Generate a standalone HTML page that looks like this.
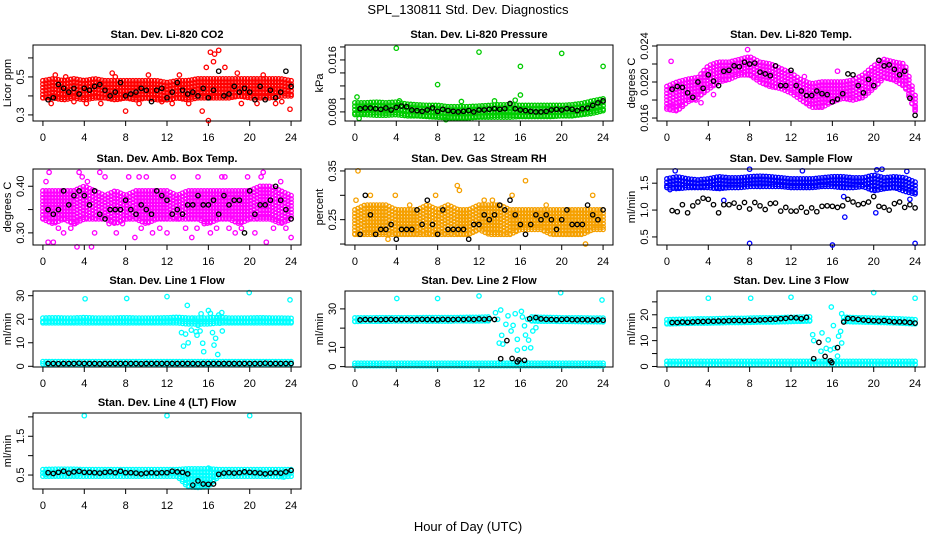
<!DOCTYPE html>
<html><head><meta charset="utf-8"><style>
html,body{margin:0;padding:0;background:#fff;}
svg{display:block;font-family:"Liberation Sans",sans-serif;}
</style></head><body>
<svg id="fig" width="936" height="540" viewBox="0 0 936 540" xmlns="http://www.w3.org/2000/svg">
<rect width="936" height="540" fill="#fff"/>
<text x="468" y="14" text-anchor="middle" font-size="13">SPL_130811  Std. Dev. Diagnostics</text>
<text x="468" y="531" text-anchor="middle" font-size="13">Hour of Day (UTC)</text>
</svg>
<script>
const co2Lo=[0.39,0.39,0.38,0.39,0.38,0.39,0.39,0.38,0.39,0.38,0.39,0.38,0.38,0.39,0.38,0.39,0.39,0.39,0.39,0.40,0.39,0.39,0.39,0.40,0.40];
const co2Hi=[0.48,0.49,0.48,0.49,0.48,0.49,0.48,0.48,0.48,0.48,0.48,0.48,0.47,0.48,0.48,0.49,0.49,0.49,0.49,0.49,0.49,0.49,0.49,0.49,0.48];
const co2SX=[1.2,10.2,16.2,16.6,17.0,16.5,17.6,15.4,16.0,8.0,23.9,0.8,3.0,4.2,5.6,6.7,9.3,12.5,13.2,14.1,18.8,19.2,21.3,22.5,23.1,2.2,7.0,11.5,20.7,15.8];
const co2SY=[0.51,0.51,0.63,0.62,0.64,0.58,0.55,0.32,0.27,0.32,0.33,0.36,0.37,0.36,0.36,0.52,0.36,0.36,0.51,0.36,0.52,0.36,0.51,0.36,0.37,0.50,0.50,0.37,0.36,0.55];
const co2Blk=[0.38,0.39,0.46,0.44,0.42,0.44,0.41,0.44,0.43,0.45,0.46,0.43,0.40,0.42,0.47,0.40,0.41,0.42,0.44,0.43,0.37,0.43,0.44,0.39,0.42,0.47,0.43,0.41,0.42,0.40,0.44,0.39,0.43,0.53,0.40,0.41,0.45,0.42,0.44,0.42,0.38,0.45,0.38,0.43,0.39,0.42,0.53,0.45];

const prLo=[0.0076,0.0076,0.0075,0.0075,0.0076,0.0074,0.0074,0.0073,0.0072,0.0071,0.0071,0.0071,0.0072,0.0072,0.0072,0.0072,0.0073,0.0073,0.0073,0.0073,0.0074,0.0074,0.0076,0.0078,0.0082];
const prHi=[0.0094,0.0094,0.0095,0.0094,0.0095,0.0092,0.0091,0.0090,0.0090,0.0088,0.0088,0.0088,0.0089,0.0090,0.0091,0.0091,0.0090,0.0090,0.0090,0.0090,0.0090,0.0091,0.0093,0.0097,0.0100];
const prSX=[4.0,12.0,20.0,16.0,24.0,8.0,16.0,0.2,0.4,4.3,10.3,13.5,8.8,15.5];
const prSY=[0.0178,0.0172,0.0170,0.0150,0.0150,0.0122,0.0106,0.0103,0.0070,0.0097,0.0096,0.0097,0.0068,0.0098];
const prBlk=[0.0085,0.0086,0.0086,0.0085,0.0084,0.0086,0.0083,0.0087,0.0089,0.0088,0.0083,0.0082,0.0081,0.0083,0.0086,0.0081,0.0084,0.0082,0.0081,0.0080,0.0081,0.0082,0.0080,0.0083,0.0083,0.0084,0.0085,0.0084,0.0085,0.0093,0.0085,0.0083,0.0082,0.0081,0.0080,0.0080,0.0081,0.0083,0.0084,0.0083,0.0085,0.0084,0.0082,0.0085,0.0086,0.0090,0.0094,0.0097];

const tmpLo=[0.0170,0.0168,0.0178,0.0183,0.0192,0.0200,0.0203,0.0208,0.0208,0.0200,0.0195,0.0193,0.0188,0.0180,0.0172,0.0172,0.0178,0.0182,0.0180,0.0183,0.0193,0.0205,0.0202,0.0195,0.0168];
const tmpHi=[0.0195,0.0200,0.0203,0.0205,0.0218,0.0222,0.0222,0.0225,0.0228,0.0222,0.0220,0.0215,0.0210,0.0202,0.0198,0.0200,0.0200,0.0200,0.0202,0.0208,0.0218,0.0225,0.0222,0.0220,0.0185];
const tmpSX=[0.4,0.5,1.0,1.5,3.3,4.5,7.8,16.5,13.3,24.0,2.8];
const tmpSY=[0.0223,0.0173,0.0173,0.0173,0.0177,0.0186,0.0236,0.0212,0.0206,0.0172,0.0180];
const tmpBlk=[0.0192,0.0195,0.0194,0.0188,0.0183,0.0200,0.0193,0.0208,0.0201,0.0196,0.0212,0.0213,0.0218,0.0217,0.0222,0.0220,0.0221,0.0211,0.0209,0.0207,0.0218,0.0196,0.0196,0.0213,0.0196,0.0190,0.0185,0.0185,0.0190,0.0187,0.0186,0.0178,0.0181,0.0187,0.0209,0.0208,0.0196,0.0188,0.0203,0.0196,0.0224,0.0218,0.0219,0.0214,0.0208,0.0212,0.0182,0.0163];

const ambLo=[0.33,0.32,0.33,0.32,0.33,0.33,0.33,0.32,0.33,0.33,0.32,0.33,0.33,0.33,0.33,0.33,0.32,0.33,0.33,0.32,0.33,0.33,0.33,0.32,0.33];
const ambHi=[0.39,0.39,0.39,0.39,0.40,0.39,0.38,0.39,0.38,0.39,0.39,0.39,0.39,0.38,0.39,0.39,0.39,0.39,0.39,0.39,0.39,0.40,0.40,0.39,0.38];
const ambSX=[0.3,0.6,1,1.5,2,2.7,3.1,3.5,3.8,4.7,5,5.5,6.4,7.1,7.7,8.3,8.9,9.5,10,10.6,11.3,12,12.6,13.1,13.8,14.4,15,15.6,16.2,16.8,17.3,18,18.6,19.2,19.8,20.5,21.1,21.6,22.3,23,23.5,24,0.5,3.3,4.3,6,9.3,14.9,17.6,21.3];
const ambSY=[0.41,0.43,0.28,0.31,0.30,0.31,0.32,0.43,0.42,0.27,0.30,0.43,0.32,0.30,0.32,0.42,0.29,0.31,0.42,0.30,0.31,0.30,0.42,0.33,0.31,0.29,0.42,0.32,0.30,0.31,0.42,0.31,0.30,0.31,0.42,0.30,0.42,0.28,0.31,0.41,0.31,0.29,0.28,0.27,0.41,0.42,0.42,0.31,0.42,0.43];
const ambBlk=[0.35,0.34,0.35,0.39,0.36,0.38,0.39,0.38,0.36,0.39,0.34,0.33,0.35,0.35,0.35,0.37,0.35,0.34,0.36,0.35,0.34,0.39,0.38,0.37,0.34,0.35,0.34,0.36,0.36,0.38,0.36,0.36,0.37,0.34,0.38,0.36,0.37,0.37,0.30,0.39,0.34,0.36,0.36,0.37,0.40,0.37,0.35,0.33];

const rhLo=[0.22,0.22,0.22,0.22,0.22,0.22,0.22,0.22,0.22,0.22,0.22,0.22,0.23,0.22,0.22,0.22,0.23,0.23,0.23,0.22,0.22,0.22,0.22,0.23,0.23];
const rhHi=[0.27,0.28,0.28,0.28,0.27,0.27,0.27,0.28,0.27,0.28,0.27,0.27,0.28,0.28,0.28,0.27,0.27,0.27,0.27,0.27,0.27,0.27,0.27,0.27,0.27];
const rhSX=[0.3,10.1,16.5,15.2,9.9,1.5,3.9,7.8,12.5,13.3,23.0,22.3,3.2,0.1,18.5,5.3];
const rhSY=[0.35,0.31,0.33,0.30,0.32,0.30,0.30,0.30,0.29,0.29,0.30,0.20,0.21,0.29,0.28,0.28];
const rhBlk=[0.22,0.30,0.26,0.22,0.23,0.23,0.24,0.21,0.23,0.23,0.23,0.27,0.24,0.29,0.24,0.22,0.27,0.23,0.23,0.23,0.23,0.21,0.24,0.24,0.26,0.25,0.26,0.28,0.27,0.29,0.26,0.24,0.22,0.24,0.26,0.25,0.26,0.25,0.23,0.25,0.27,0.24,0.24,0.24,0.28,0.26,0.25,0.27];

const sfLo=[1.42,1.40,1.42,1.42,1.42,1.40,1.42,1.42,1.44,1.44,1.44,1.44,1.42,1.42,1.42,1.44,1.44,1.42,1.42,1.44,1.36,1.40,1.42,1.35,1.30];
const sfHi=[1.58,1.62,1.58,1.56,1.58,1.62,1.60,1.60,1.62,1.63,1.62,1.60,1.58,1.58,1.58,1.60,1.62,1.62,1.60,1.60,1.65,1.60,1.62,1.60,1.52];
const sfSX=[8,16,24,17.2,20.2,8,5.5,0.8,13.1,20.3,20.8,17.1,23.2,0.3,23.5];
const sfSY=[0.38,0.35,0.38,0.87,0.95,1.76,1.18,1.73,1.73,1.75,1.76,1.25,1.72,1.38,1.20];
const sfBlk=[0.99,0.97,1.10,0.95,1.08,1.15,1.22,1.20,1.10,0.95,1.10,1.10,1.13,1.05,1.14,1.02,1.14,1.08,1.01,1.12,1.13,0.98,1.05,0.98,0.98,1.05,0.96,1.04,0.97,1.07,1.08,1.07,1.05,1.08,1.20,1.15,1.10,1.12,1.15,1.25,1.07,1.05,1.00,1.12,1.15,1.05,1.10,1.04];

const l1Lo=[18.5,18.5,18.5,18.5,18.5,18.5,18.5,18.5,18.5,18.5,18.5,18.5,18.5,18.5,18,18,18,18.5,18.5,18.5,18.5,18.5,18.5,18.5,18.5];
const l1Hi=[20.5,20.6,20.5,20.5,20.7,20.5,20.5,20.5,20.6,20.5,20.5,20.5,20.6,20.8,20.5,20.5,20.5,20.8,20.5,20.5,20.5,20.6,20.5,20.5,20.4];
const l1BLo=[1.0,1.0,1.0,1.0,1.0,1.0,1.0,1.0,1.0,1.0,1.0,1.0,1.0,1.0,1.0,1.0,1.0,1.0,1.0,1.0,1.0,1.0,1.0,1.0,1.0];
const l1BHi=[2.0,2.0,2.0,2.0,2.0,2.0,2.0,2.0,2.0,2.0,2.0,2.0,2.0,2.0,2.0,2.0,2.0,2.0,2.0,2.0,2.0,2.0,2.0,2.0,2.0];
const l1SX=[4.08,8.1,12.0,19.95,23.9,13.96,13.4,13.8,13.6,14.05,14.35,14.8,14.9,15.2,15.3,15.45,15.55,16.0,16.2,16.4,16.55,16.7,16.9,17.0,17.3,17.35,17.1,14.45,15.0];
const l1SY=[28.7,28.8,29.6,31.3,28.2,25.9,14.3,13.7,8.6,10.0,15.4,14.7,13.2,15.0,22.3,9.8,6.2,23.7,22.5,14.3,9.0,11.9,5.0,21.8,22.8,15.0,18.3,20.5,17.4];
const l1Blk=[1.2,1.2,1.1,1.2,1.2,1.2,1.3,1.2,1.2,1.2,1.1,1.2,1.2,1.2,1.2,1.2,1.2,1.2,1.1,1.2,1.2,1.2,1.2,1.2,1.2,1.2,1.2,1.2,1.2,1.1,1.2,1.2,1.2,1.2,1.2,1.2,1.2,1.2,1.2,1.2,1.2,1.2,1.3,1.2,1.2,1.2,1.2,1.2];

const l2Lo=[23.5,23.6,23.6,23.6,23.7,23.7,23.7,23.7,23.7,23.7,23.8,23.8,23.8,23.8,null,null,null,23.8,23.6,23.6,23.5,23.5,23.4,23.4,23.3];
const l2Hi=[25.3,25.3,25.4,25.4,25.4,25.4,25.4,25.5,25.5,25.5,25.5,25.6,25.6,25.8,null,null,null,25.8,25.6,25.5,25.4,25.3,25.3,25.2,25.2];
const l2BLo=[0.5,0.5,0.5,0.5,0.5,0.5,0.5,0.5,0.5,0.5,0.5,0.5,0.5,0.5,0.5,0.5,0.5,0.5,0.5,0.5,0.5,0.5,0.5,0.5,0.5];
const l2BHi=[1.8,1.8,1.8,1.8,1.8,1.8,1.8,1.8,1.8,1.8,1.8,1.8,1.8,1.8,1.8,1.8,1.8,1.8,1.8,1.8,1.8,1.8,1.8,1.8,1.8];
const l2SX=[4.05,8.0,12.0,19.9,23.9,13.6,14.1,13.8,14.2,13.95,14.3,14.6,15.1,15.3,15.7,15.5,16.1,16.2,16.4,16.5,16.8,17.0,16.4,15.7,17.5,17.2,16.7,14.8];
const l2SY=[35.4,35.4,36.7,38.4,34.6,28.0,29.4,24.6,16.3,12.2,11.7,22.0,18.5,21.4,14.2,27.5,28.7,25.8,21.2,16.4,13.8,9.8,9.5,8.6,20.2,18.5,24.6,26.4];
const l2Blk=[24.3,24.5,24.4,24.5,24.4,24.5,24.6,24.4,24.5,24.5,24.4,24.5,24.6,24.5,24.5,24.4,24.6,24.5,24.5,24.6,24.5,24.7,24.5,24.8,24.6,24.9,24.5,null,null,null,null,null,null,null,25.5,24.8,24.6,24.5,24.4,24.5,24.6,24.4,24.3,24.4,24.3,24.2,24.3,24.1];
const l2BSX=[14.1,14.7,15.2,15.85,15.7,16.4,16.9];
const l2BSY=[4.1,13.5,4.2,3.5,2.5,3.3,24.9];

const l3Lo=[16.5,16.6,16.7,16.8,16.8,16.9,17.0,17.0,17.1,17.2,17.2,17.3,17.4,17.5,17.6,null,null,17.5,17.3,17.2,17.1,17.0,16.9,16.7,16.5];
const l3Hi=[18.1,18.2,18.3,18.4,18.4,18.5,18.6,18.6,18.7,18.8,18.8,18.9,19.0,19.1,19.2,null,null,19.1,18.9,18.8,18.7,18.6,18.5,18.3,18.1];
const l3BLo=[0.8,0.8,0.8,0.8,0.8,0.8,0.8,0.8,0.8,0.8,0.8,0.8,0.8,0.8,0.8,0.8,0.8,0.8,0.8,0.8,0.8,0.8,0.8,0.8,0.8];
const l3BHi=[2.0,2.0,2.0,2.0,2.0,2.0,2.0,2.0,2.0,2.0,2.0,2.0,2.0,2.0,2.0,2.0,2.0,2.0,2.0,2.0,2.0,2.0,2.0,2.0,2.0];
const l3SX=[4.0,8.1,12.0,20.0,24.0,14.1,14.2,15.0,15.6,15.9,16.1,16.8,16.6,16.9,16.9,14.9,15.4,15.8,16.2,16.5];
const l3SY=[26.4,26.4,26.8,28.6,26.4,12.3,10.0,13.0,10.3,23.0,15.8,13.6,11.7,9.1,20.4,5.9,7.0,6.4,7.0,4.0];
const l3Blk=[17.0,17.0,17.2,17.1,17.3,17.4,17.4,17.5,17.5,17.6,17.6,17.7,17.8,17.8,17.7,17.9,17.9,18.0,18.1,18.2,18.3,18.5,18.6,18.9,18.8,18.5,19.0,null,null,null,null,null,null,null,18.6,18.5,18.2,18.0,17.8,17.7,17.6,17.8,17.5,17.3,17.3,17.2,17.0,16.8];
const l3BSX=[14.2,14.7,15.3,15.8,15.95,16.5,17.1];
const l3BSY=[3.0,9.3,3.9,2.2,1.5,7.3,17.2];

const l4Lo=[0.47,0.47,0.47,0.47,0.47,0.47,0.47,0.47,0.47,0.47,0.47,0.47,0.47,0.47,0.20,0.18,0.20,0.47,0.47,0.47,0.47,0.47,0.47,0.46,0.47];
const l4Hi=[0.64,0.65,0.65,0.65,0.64,0.64,0.64,0.64,0.64,0.64,0.64,0.64,0.64,0.64,0.66,0.66,0.66,0.64,0.64,0.64,0.64,0.64,0.64,0.64,0.64];
const l4SX=[4.0,12.0,20.0,16.0,0.2,23.3];
const l4SY=[2.03,2.03,2.03,0.68,0.52,0.45];
const l4Blk=[0.56,0.54,0.57,0.60,0.55,0.58,0.60,0.57,0.57,0.56,0.55,0.57,0.58,0.56,0.60,0.56,0.56,0.55,0.53,0.55,0.56,0.55,0.56,0.56,0.60,0.58,0.57,0.53,0.24,0.35,0.27,0.26,0.27,0.52,0.55,0.56,0.55,0.56,0.58,0.57,0.56,0.55,0.53,0.55,0.56,0.55,0.58,0.62];

const NS="http://www.w3.org/2000/svg";
const svg=document.getElementById('fig');
function mk(tag,attrs,parent){const e=document.createElementNS(NS,tag);for(const k in attrs)e.setAttribute(k,attrs[k]);(parent||svg).appendChild(e);return e;}

const W=268,H=76,PAD=0.96;
function makePanel(col,row,title,ylab,ymin,ymax,ticks,labels,slug){
  const L=33+312*col, T=[45,169,291,413][row], B=T+H;
  const g=mk('g',{});
  
  
  const xs=h=>L+(h+PAD)/(24+2*PAD)*W;
  const ys=v=>B-(v-ymin)/(ymax-ymin)*H;
  const t=mk('text',{x:L+W/2,y:T-7,'text-anchor':'middle','font-size':11,'font-weight':'bold'},g);
  t.textContent=title;
  
  
  const yl=mk('text',{x:0,y:0,transform:`translate(${L-22},${T+H/2}) rotate(-90)`,'text-anchor':'middle','font-size':11},g);
  yl.textContent=ylab;
  
  
  const xt=[0,4,8,12,16,20,24];
  xt.forEach(h=>{
    mk('line',{x1:xs(h),x2:xs(h),y1:B,y2:B+5,stroke:'#000','stroke-width':1},g);
    const tx=mk('text',{x:xs(h),y:B+20,'text-anchor':'middle','font-size':11},g);
    tx.textContent=h;
    
    
  });
  ticks.forEach((v,i)=>{
    mk('line',{x1:L-5,x2:L,y1:ys(v),y2:ys(v),stroke:'#000','stroke-width':1},g);
    if(labels[i]){
      const ty=mk('text',{x:0,y:0,transform:`translate(${L-9},${ys(v)}) rotate(-90)`,'text-anchor':'middle','font-size':11},g);
      ty.textContent=labels[i];
      
      
    }
  });
  const pts=mk('g',{},g);
  
  
  const box=mk('rect',{x:L,y:T,width:W,height:H,fill:'none',stroke:'#000','stroke-width':1},g);
  
  
  return {xs,ys,pts};
}
function dot(p,x,y,c){mk('circle',{cx:x.toFixed(1),cy:y.toFixed(1),r:2.2,fill:'none',stroke:c,'stroke-width':1.3},p.pts);}
function band(p,lo,hi,c){
  for(let h=0;h<=24.001;h+=0.3){
    const i=Math.min(23,Math.floor(h)),f=h-i;
    if(lo[i]==null||lo[i+1]==null) continue;
    const a=lo[i]+(lo[i+1]-lo[i])*f,b=hi[i]+(hi[i+1]-hi[i])*f;
    const y1=p.ys(b),y2=p.ys(a),x=p.xs(h);
    for(let y=y1;y<=y2+0.01;y+=3.4) dot(p,x,y,c);
    dot(p,x,y2,c);
  }
}
function scatter(p,X,Y,c){X.forEach((x,i)=>{if(Y[i]!=null)dot(p,p.xs(x),p.ys(Y[i]),c);});}
function blacks(p,Y){Y.forEach((v,i)=>{if(v!=null)dot(p,p.xs(0.5*(i+1)),p.ys(v),'#000');});}

let p;
p=makePanel(0,0,'Stan. Dev. Li-820 CO2','Licor ppm',0.268,0.668,[0.3,0.4,0.5,0.6],['0.3','','0.5',''],'co2');
band(p,co2Lo,co2Hi,'#ff0000');scatter(p,co2SX,co2SY,'#ff0000');blacks(p,co2Blk);

p=makePanel(1,0,'Stan. Dev. Li-820 Pressure','kPa',0.0066,0.0183,[0.008,0.010,0.012,0.014,0.016,0.018],['0.008','','','','0.016',''],'pressure');
band(p,prLo,prHi,'#00cc00');scatter(p,prSX,prSY,'#00cc00');blacks(p,prBlk);

p=makePanel(2,0,'Stan. Dev. Li-820 Temp.','degrees C',0.01567,0.02411,[0.016,0.018,0.020,0.022,0.024],['0.016','','0.020','','0.024'],'li820-temp');
band(p,tmpLo,tmpHi,'#ff00ff');scatter(p,tmpSX,tmpSY,'#ff00ff');blacks(p,tmpBlk);

p=makePanel(0,1,'Stan. Dev. Amb. Box Temp.','degrees C',0.274,0.437,[0.30,0.35,0.40],['0.30','','0.40'],'amb-box-temp');
band(p,ambLo,ambHi,'#ff00ff');scatter(p,ambSX,ambSY,'#ff00ff');blacks(p,ambBlk);

p=makePanel(1,1,'Stan. Dev. Gas Stream RH','percent',0.198,0.354,[0.20,0.25,0.30,0.35],['','0.25','','0.35'],'rh');
band(p,rhLo,rhHi,'#f5a000');scatter(p,rhSX,rhSY,'#f5a000');blacks(p,rhBlk);

p=makePanel(2,1,'Stan. Dev. Sample Flow','ml/min',0.35,1.764,[0.5,1.0,1.5],['0.5','1.0','1.5'],'sample-flow');
band(p,sfLo,sfHi,'#0000ff');scatter(p,sfSX,sfSY,'#0000ff');blacks(p,sfBlk);

p=makePanel(0,2,'Stan. Dev. Line 1 Flow','ml/min',-0.3,32,[0,10,20,30],['0','10','20','30'],'line1-flow');
band(p,l1Lo,l1Hi,'#00ffff');band(p,l1BLo,l1BHi,'#00ffff');scatter(p,l1SX,l1SY,'#00ffff');blacks(p,l1Blk);

p=makePanel(1,2,'Stan. Dev. Line 2 Flow','ml/min',-0.2,39.3,[0,10,20,30],['0','10','','30'],'line2-flow');
band(p,l2Lo,l2Hi,'#00ffff');band(p,l2BLo,l2BHi,'#00ffff');scatter(p,l2SX,l2SY,'#00ffff');blacks(p,l2Blk);scatter(p,l2BSX,l2BSY,'#000');

p=makePanel(2,2,'Stan. Dev. Line 3 Flow','ml/min',-0.2,29.2,[0,5,10,15,20,25],['0','','10','','20',''],'line3-flow');
band(p,l3Lo,l3Hi,'#00ffff');band(p,l3BLo,l3BHi,'#00ffff');scatter(p,l3SX,l3SY,'#00ffff');blacks(p,l3Blk);scatter(p,l3BSX,l3BSY,'#000');

p=makePanel(0,3,'Stan. Dev. Line 4 (LT) Flow','ml/min',0.14,2.1,[0.5,1.0,1.5,2.0],['0.5','','1.5',''],'line4-flow');
band(p,l4Lo,l4Hi,'#00ffff');scatter(p,l4SX,l4SY,'#00ffff');blacks(p,l4Blk);
</script>
</body></html>
